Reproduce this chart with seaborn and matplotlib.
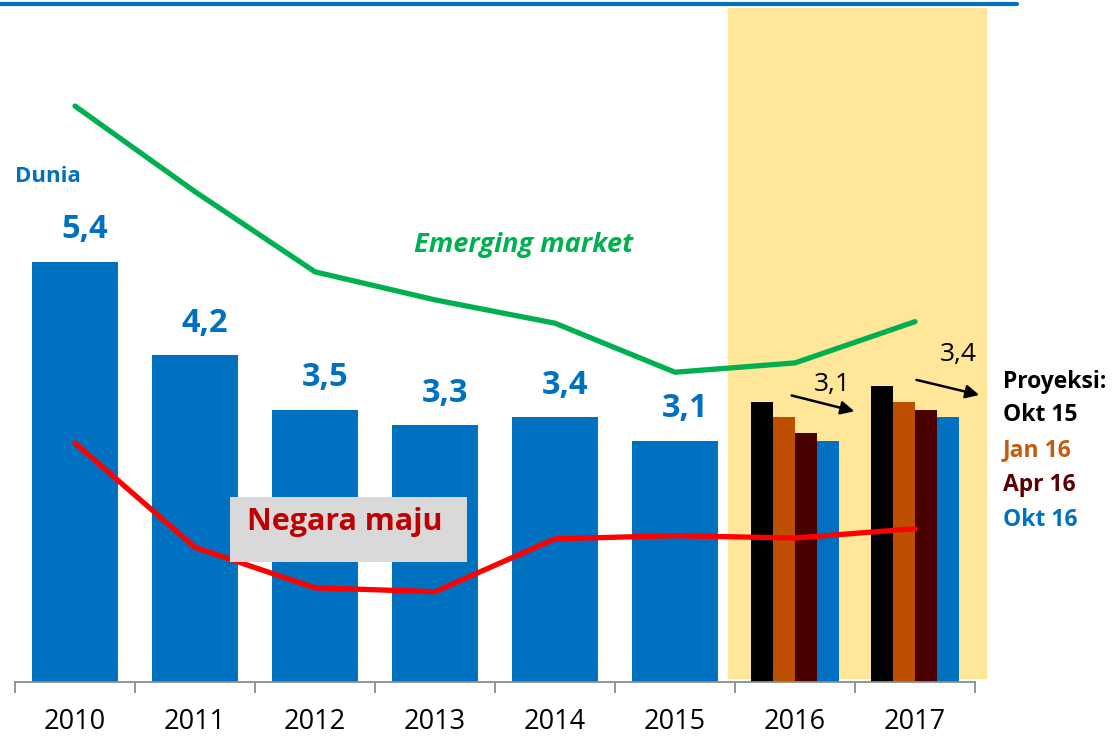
"""Pertumbuhan ekonomi dunia 2010-2017 dan revisi proyeksi."""

import matplotlib.pyplot as plt
import numpy as np
import pandas as pd
import seaborn as sns
from matplotlib.patches import Rectangle

# Data
years = ["2010", "2011", "2012", "2013", "2014", "2015", "2016", "2017"]
dunia_years = ["2010", "2011", "2012", "2013", "2014", "2015"]
dunia = [5.4, 4.2, 3.5, 3.3, 3.4, 3.1]
proj_years = ["2016", "2017"]
vintages = ["Okt 15", "Jan 16", "Apr 16", "Okt 16"]
proj_2016 = [3.6, 3.4, 3.2, 3.1]
proj_2017 = [3.8, 3.6, 3.5, 3.4]
emerging = [7.4, 6.3, 5.27, 4.91, 4.61, 3.98, 4.1, 4.63]
maju = [3.07, 1.73, 1.21, 1.16, 1.84, 1.88, 1.85, 1.97]

BLUE = "#0070C0"
GREEN = "#00B050"
RED = "#FF0000"
bar_colors = {"Okt 15": "#000000", "Jan 16": "#BF4F00", "Apr 16": "#4B0000", "Okt 16": BLUE}
text_colors = {"Okt 15": "#000000", "Jan 16": "#C55A11", "Apr 16": "#5A0000", "Okt 16": BLUE}

sns.set_style("white")
plt.rcParams["font.family"] = ["Open Sans", "DejaVu Sans"]

fig = plt.figure(figsize=(11.12, 7.37), dpi=100)
ax = fig.add_axes([15 / 1112, 55 / 737, 960 / 1112, 674 / 737])

df_dunia = pd.DataFrame({"tahun": dunia_years, "pertumbuhan": dunia})
df_proj = pd.DataFrame(
    {
        "tahun": np.repeat(proj_years, len(vintages)),
        "proyeksi": vintages * len(proj_years),
        "pertumbuhan": proj_2016 + proj_2017,
    }
)

sns.barplot(
    data=df_dunia, x="tahun", y="pertumbuhan", order=years, color=BLUE,
    saturation=1, width=0.72, errorbar=None, linewidth=0, ax=ax, zorder=2,
)
sns.barplot(
    data=df_proj, x="tahun", y="pertumbuhan", hue="proyeksi", order=years,
    hue_order=vintages, palette=bar_colors, saturation=1, width=0.735,
    errorbar=None, linewidth=0, legend=False, ax=ax, zorder=2,
)

pos = np.arange(len(years))
sns.lineplot(x=pos, y=emerging, color=GREEN, lw=3.8, sort=False, ax=ax, zorder=3)
sns.lineplot(x=pos, y=maju, color=RED, lw=3.8, sort=False, ax=ax, zorder=3)

# shaded projection period
i16, i17 = years.index("2016"), years.index("2017")
ax.axvspan(i16 - 0.558, i17 + 0.592, ymin=0.006, ymax=1, color="#FFE699",
           zorder=0, clip_on=False)

ax.set_xlim(-0.5, len(years) - 0.5)
ax.set_ylim(0, 8.66)
ax.set_xlabel("")
ax.set_ylabel("")
ax.set_yticks([])
for s in ["top", "left", "right"]:
    ax.spines[s].set_visible(False)
ax.spines["bottom"].set_color("#8C8C8C")
ax.spines["bottom"].set_linewidth(1.3)
ax.spines["bottom"].set_zorder(4)

ax.set_xticks(np.arange(-0.5, len(years), 1), labels=[])
ax.set_xticks(pos, labels=years, minor=True)
ax.tick_params(axis="x", which="major", length=8, width=1.3, color="#8C8C8C",
               direction="out", bottom=True)
ax.tick_params(axis="x", which="minor", length=0, pad=19, labelsize=19.5,
               labelcolor="black", bottom=True)

# value labels for world growth
for i, v in enumerate(dunia):
    ax.annotate(f"{v:.1f}".replace(".", ","), (i, v), xytext=(7, 23),
                textcoords="offset points", ha="center", va="center",
                fontsize=23.5, fontweight="bold", color=BLUE)

ax.text(-0.5, 6.5, "Dunia", ha="left", va="center", fontsize=16,
        fontweight="bold", color=BLUE)
ax.text(3.742, 5.62, "Emerging market", ha="center", va="center",
        fontsize=19.5, fontweight="bold", fontstyle="italic", color=GREEN)
ax.add_patch(Rectangle((1.292, 1.542), 1.975, 0.836, fc="#D9D9D9", ec="none", zorder=5))
ax.text(2.25, 2.06, "Negara maju", ha="center", va="center", fontsize=22,
        fontweight="bold", color="#C00000", zorder=6)

# revision arrows
arrow = dict(arrowstyle="-|>", color="black", lw=1.8, mutation_scale=20)
ax.annotate("", xy=(i16 + 0.517, 3.47), xytext=(i16 - 0.05, 3.69), arrowprops=arrow,
            annotation_clip=False, zorder=4)
ax.annotate("", xy=(i17 + 0.558, 3.68), xytext=(i17 - 0.01, 3.89), arrowprops=arrow,
            annotation_clip=False, zorder=4)
ax.text(i16 + 0.308, 3.82, f"{proj_2016[-1]:.1f}".replace(".", ","), ha="center",
        va="center", fontsize=19, color="black", zorder=4)
ax.text(i17 + 0.358, 4.21, f"{proj_2017[-1]:.1f}".replace(".", ","), ha="center",
        va="center", fontsize=19, color="black", zorder=4)

# projection legend
fig.text(0.902, 0.4817, "Proyeksi:", ha="left", va="center", fontsize=16.5,
         fontweight="bold", color="black")
for k, name in enumerate(vintages):
    fig.text(0.902, 0.4369 - k * 0.0475, name, ha="left", va="center",
             fontsize=16.5, fontweight="bold", color=text_colors[name])

# blue rule at the top
fig.add_artist(plt.Line2D([0, 1017 / 1112], [0.9946, 0.9946], color=BLUE, lw=3))

fig.savefig("out.png", dpi=100)
